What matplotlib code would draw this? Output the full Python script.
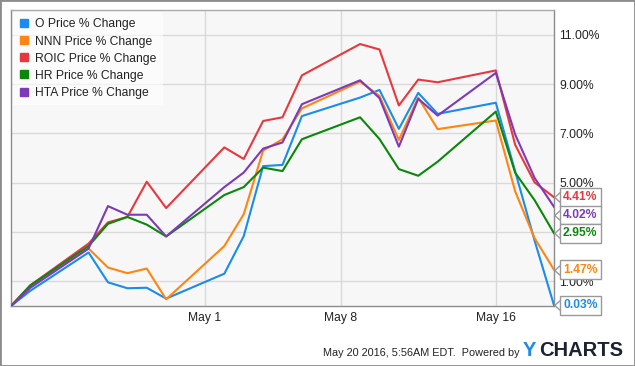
import pandas as pd
import matplotlib
matplotlib.use('Agg')
import matplotlib.pyplot as plt
import matplotlib.transforms as mtransforms
from matplotlib.lines import Line2D
from matplotlib.patches import Rectangle

plt.rcParams['font.family'] = ['Liberation Sans', 'DejaVu Sans']

# data (percent change since 2016-04-21)
dates = ['2016-04-21', '2016-04-22', '2016-04-25', '2016-04-26', '2016-04-27',
         '2016-04-28', '2016-04-29', '2016-05-02', '2016-05-03', '2016-05-04',
         '2016-05-05', '2016-05-06', '2016-05-09', '2016-05-10', '2016-05-11',
         '2016-05-12', '2016-05-13', '2016-05-16', '2016-05-17', '2016-05-18',
         '2016-05-19']
o_vals = [0, 0.62, 2.17, 0.96, 0.72, 0.74, 0.30, 1.31, 2.83, 5.67, 5.72,
          7.70, 8.45, 8.76, 7.18, 8.64, 7.79, 8.24, 5.45, 2.65, 0.03]
nnn_vals = [0, 0.80, 2.33, 1.56, 1.33, 1.52, 0.27, 2.43, 3.72, 6.30, 6.76,
            8.01, 9.10, 8.52, 6.73, 8.45, 7.17, 7.52, 4.64, 2.75, 1.47]
roic_vals = [0, 0.84, 2.53, 3.39, 3.61, 5.04, 3.97, 6.43, 5.96, 7.50, 7.65,
             9.35, 10.62, 10.40, 8.13, 9.18, 9.07, 9.55, 6.53, 5.01, 4.41]
hr_vals = [0, 0.84, 2.43, 3.33, 3.61, 3.30, 2.82, 4.50, 4.82, 5.61, 5.47,
           6.76, 7.65, 6.77, 5.55, 5.28, 5.85, 7.88, 5.40, 4.29, 2.95]
hta_vals = [0, 0.74, 2.33, 4.05, 3.70, 3.70, 2.82, 4.82, 5.41, 6.38, 6.63,
            8.18, 9.15, 8.43, 6.46, 8.40, 7.72, 9.45, 6.95, 5.19, 4.02]

names = ['O Price % Change', 'NNN Price % Change', 'ROIC Price % Change',
         'HR Price % Change', 'HTA Price % Change']
colors = ['#1a8ceb', '#ff8512', '#e8383d', '#0b870b', '#7d3ab8']
series = [o_vals, nnn_vals, roic_vals, hr_vals, hta_vals]

yticks = [1, 3, 5, 7, 9, 11]
xticks = ['2016-05-01', '2016-05-08', '2016-05-16']
xticklabels = ['May 1', 'May 8', 'May 16']

x = pd.to_datetime(dates)

fig = plt.figure(figsize=(6.35, 3.66), dpi=100)
ax = fig.add_axes([11 / 635, 60 / 366, 543 / 635, 296 / 366])
ax.set_facecolor('#f7f7f7')

for vals, c in zip(series, colors):
    ax.plot(x, vals, color=c, lw=1.5, zorder=3)

ax.set_xlim(x[0], x[-1])
ax.set_ylim(0, 12)

ax.set_yticks(yticks)
ax.set_yticklabels(['%.2f%%' % v for v in yticks])
ax.yaxis.tick_right()
ax.set_xticks(pd.to_datetime(xticks))
ax.set_xticklabels(xticklabels)
ax.tick_params(axis='y', length=0, pad=3.6, labelsize=8.7, labelcolor='#222222')
ax.tick_params(axis='x', length=0, pad=4.5, labelsize=8.7, labelcolor='#222222')
ax.grid(True, color='#d9d9d9', lw=1)
ax.set_axisbelow(True)
for side in ['left', 'right', 'top', 'bottom']:
    ax.spines[side].set_color('#8c8c8c')
    ax.spines[side].set_linewidth(1)
ax.spines['top'].set_color('#aaaaaa')

# legend
handles = [Line2D([], [], ls='none', marker='s', markersize=6, color=c) for c in colors]
leg = ax.legend(handles, names, loc='upper left', bbox_to_anchor=(0, 1),
                borderaxespad=0.15, fontsize=8.7, handlelength=0.7,
                handletextpad=0.55, labelspacing=0.42, borderpad=0.55,
                frameon=True, fancybox=False)
leg.get_frame().set_facecolor('#ffffff')
leg.get_frame().set_alpha(0.6)
leg.get_frame().set_linewidth(0)
for t in leg.get_texts():
    t.set_color('#222222')

# end value labels, pushed apart when they would overlap
trans = mtransforms.blended_transform_factory(ax.transAxes, ax.transData)
ends = sorted([(vals[-1], c) for vals, c in zip(series, colors)], reverse=True)
prev = None
for v, c in ends:
    ly = v if prev is None else min(v, prev - 0.72)
    prev = ly
    ax.annotate('%.2f%%' % v, xy=(1, ly), xycoords=trans, xytext=(9, 0),
                textcoords='offset pixels', ha='left', va='center',
                fontsize=8.7, fontweight='bold', color=c, zorder=6,
                annotation_clip=False,
                bbox=dict(boxstyle='square,pad=0.28', fc='white', ec='#999999', lw=1))
    ax.plot([1.0055], [ly], marker=[(0.55, 1), (-0.55, 0), (0.55, -1)], markersize=7,
            mfc='none', mec='#999999', mew=1, transform=trans, clip_on=False, zorder=7)

# footer
fig.text(520 / 635, 1 - 352.5 / 366, 'May 20 2016, 5:56AM EDT.  Powered by',
         ha='right', va='center', fontsize=7.8, color='#222222')
fig.text(523 / 635, 1 - 350 / 366, 'Y', ha='left', va='center', fontsize=14.5,
         fontweight='bold', color='#1a8ceb')
fig.text(539 / 635, 1 - 350 / 366, 'CHARTS', ha='left', va='center', fontsize=14.5,
         fontweight='bold', color='#1c2330')

fig.patches.append(Rectangle((0, 0), 1, 1, transform=fig.transFigure, fill=False,
                             ec='#8c8c8c', lw=2))

fig.savefig('out.png', dpi=100)
